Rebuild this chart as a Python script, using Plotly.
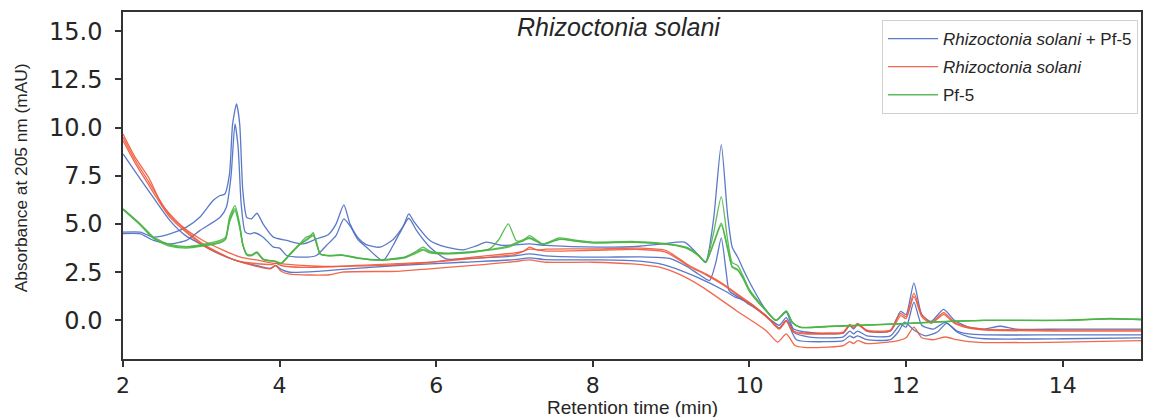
import plotly.graph_objects as go

# ---------------- data ----------------
# Rhizoctonia solani + Pf-5 (blue)
BA_x = [2.0, 2.22, 2.39, 2.6, 2.81, 2.98, 3.15, 3.24, 3.30, 3.36, 3.40, 3.45, 3.49, 3.53, 3.58, 3.64, 3.71, 3.79, 3.92, 4.09, 4.30, 4.47, 4.62, 4.72, 4.82, 4.90, 5.0, 5.1, 5.28, 5.45, 5.58, 5.65, 5.72, 5.92, 6.13, 6.34, 6.50, 6.64, 6.85, 7.19, 7.40, 8.08, 8.6, 8.9, 9.17, 9.30, 9.44, 9.54, 9.64, 9.72, 9.78, 9.85, 9.95, 10.08, 10.2, 10.34, 10.47, 10.56, 10.72, 11.0, 11.2, 11.28, 11.33, 11.38, 11.5, 11.8, 11.93, 12.0, 12.1, 12.2, 12.32, 12.48, 12.62, 12.8, 13.0, 13.2, 13.4, 14.0, 15.0]
BA_y = [4.58, 4.58, 4.32, 4.49, 4.84, 5.35, 6.22, 6.48, 6.56, 7.6, 10.2, 11.23, 10.2, 6.74, 5.35, 5.27, 5.56, 5.0, 4.32, 4.15, 3.97, 4.23, 4.45, 5.0, 6.0, 5.0, 4.3, 3.95, 3.8, 4.2, 4.9, 5.53, 5.1, 4.15, 3.8, 3.66, 3.85, 4.06, 3.89, 3.97, 3.89, 3.80, 3.85, 3.97, 4.06, 3.6, 3.05, 5.2, 9.12, 5.5, 3.8, 3.28, 2.4, 1.4, 0.6, 0.0, 0.43, -0.43, -0.6, -0.7, -0.65, -0.25, -0.45, -0.2, -0.55, -0.55, 0.47, 0.3, 1.95, 0.3, -0.05, 0.57, 0.0, -0.35, -0.45, -0.3, -0.45, -0.45, -0.45]

BB_x = [2.0, 2.22, 2.39, 2.6, 2.81, 2.98, 3.24, 3.32, 3.38, 3.43, 3.47, 3.51, 3.56, 3.62, 3.68, 3.79, 3.92, 4.0, 4.09, 4.30, 4.47, 4.6, 4.72, 4.82, 4.9, 5.0, 5.11, 5.32, 5.45, 5.53, 5.65, 5.75, 5.92, 6.13, 6.4, 6.77, 7.0, 7.19, 7.4, 8.08, 8.6, 9.0, 9.2, 9.35, 9.49, 9.57, 9.64, 9.70, 9.74, 9.82, 9.89, 10.0, 10.1, 10.25, 10.38, 10.47, 10.58, 10.75, 11.0, 11.2, 11.28, 11.33, 11.38, 11.5, 11.8, 11.93, 12.0, 12.1, 12.2, 12.35, 12.5, 12.65, 12.8, 13.0, 14.0, 15.0]
BB_y = [4.5, 4.49, 4.15, 3.97, 4.15, 4.66, 5.35, 5.87, 7.5, 10.19, 9.0, 6.0, 4.6, 4.49, 4.55, 4.32, 3.8, 3.75, 3.37, 3.28, 3.37, 3.9, 4.4, 5.27, 4.9, 4.2, 3.8, 3.1, 3.9, 4.5, 5.3, 4.66, 3.8, 3.19, 3.22, 3.28, 3.35, 3.45, 3.35, 3.28, 3.3, 3.2, 2.8, 2.4, 2.07, 3.0, 4.28, 2.6, 1.55, 1.3, 1.12, 0.9, 0.6, 0.1, -0.25, 0.15, -0.65, -0.85, -0.9, -0.85, -0.55, -0.7, -0.55, -0.8, -0.8, -0.2, -0.35, 0.95, -0.25, -0.45, -0.1, -0.55, -0.7, -0.75, -0.75, -0.75]

BC_x = [2.0, 2.22, 2.4, 2.6, 2.8, 3.02, 3.2, 3.45, 3.7, 3.88, 3.95, 4.02, 4.13, 4.5, 4.8, 5.5, 6.34, 7.0, 7.19, 7.4, 8.08, 8.5, 8.9, 9.3, 9.7, 9.82, 9.89, 9.97, 10.2, 10.38, 10.47, 10.6, 11.0, 11.2, 11.28, 11.33, 11.38, 11.5, 11.8, 11.9, 11.98, 12.1, 12.25, 12.4, 12.52, 12.65, 12.8, 13.0, 14.0, 15.0]
BC_y = [8.64, 7.34, 6.3, 5.18, 4.4, 3.9, 3.5, 3.1, 2.85, 2.7, 2.85, 2.65, 2.5, 2.55, 2.65, 2.85, 3.02, 3.15, 3.25, 3.15, 3.14, 3.1, 2.9, 2.3, 1.5, 1.2, 1.12, 0.9, 0.3, -0.4, 0.0, -1.0, -1.1, -1.05, -0.8, -0.9, -0.8, -1.0, -1.0, -0.6, -0.09, -0.5, -0.8, -0.6, -0.14, -0.6, -0.85, -0.95, -0.95, -0.9]

# Rhizoctonia solani (red)
RA_x = [2.0, 2.15, 2.33, 2.5, 2.75, 3.0, 3.25, 3.5, 3.75, 3.9, 4.0, 4.3, 4.64, 5.5, 5.92, 6.5, 7.0, 7.12, 7.19, 7.3, 7.4, 8.0, 8.6, 8.93, 9.23, 9.45, 9.66, 9.87, 10.08, 10.25, 10.38, 10.47, 10.56, 10.7, 11.0, 11.2, 11.28, 11.33, 11.38, 11.5, 11.8, 11.88, 11.93, 12.0, 12.1, 12.2, 12.32, 12.48, 12.62, 12.8, 13.0, 14.0, 15.0]
RA_y = [9.67, 8.5, 7.4, 6.0, 4.9, 4.2, 3.7, 3.28, 3.1, 2.97, 2.95, 2.85, 2.8, 2.94, 3.02, 3.3, 3.5, 3.6, 3.8, 3.65, 3.7, 3.71, 3.75, 3.63, 2.85, 2.4, 1.9, 1.3, 0.69, 0.1, -0.4, 0.0, -0.55, -0.65, -0.65, -0.6, -0.2, -0.35, -0.15, -0.5, -0.5, 0.1, 0.35, 0.2, 1.42, 0.3, -0.1, 0.4, -0.1, -0.35, -0.45, -0.5, -0.5]

RB_x = [2.0, 2.15, 2.32, 2.6, 3.02, 3.45, 3.9, 3.95, 4.02, 4.3, 4.8, 5.5, 6.5, 7.0, 7.19, 7.4, 8.0, 8.6, 8.93, 9.23, 9.45, 9.66, 9.87, 10.08, 10.25, 10.38, 10.47, 10.56, 10.7, 11.0, 11.2, 11.28, 11.33, 11.38, 11.5, 11.8, 11.93, 12.0, 12.1, 12.2, 12.32, 12.48, 12.62, 12.8, 13.0, 14.0, 15.0]
RB_y = [9.5, 8.35, 7.25, 5.44, 3.97, 3.1, 2.9, 2.97, 2.85, 2.75, 2.8, 2.88, 3.22, 3.42, 3.7, 3.6, 3.64, 3.68, 3.55, 2.8, 2.35, 1.85, 1.25, 0.62, 0.05, -0.45, -0.05, -0.6, -0.7, -0.7, -0.65, -0.25, -0.4, -0.2, -0.55, -0.55, 0.25, 0.1, 1.25, 0.2, -0.15, 0.3, -0.15, -0.4, -0.5, -0.55, -0.55]

RC_x = [2.0, 2.15, 2.32, 2.6, 3.02, 3.45, 3.88, 3.95, 4.02, 4.13, 4.64, 4.8, 5.5, 5.92, 6.6, 7.0, 7.19, 7.4, 8.0, 8.5, 8.85, 9.1, 9.4, 9.83, 10.21, 10.36, 10.47, 10.58, 10.7, 11.0, 11.2, 11.28, 11.33, 11.38, 11.5, 11.9, 12.0, 12.1, 12.2, 12.35, 12.5, 12.65, 12.8, 13.0, 14.0, 15.0]
RC_y = [9.33, 8.2, 7.08, 5.35, 3.89, 3.1, 2.68, 2.85, 2.55, 2.4, 2.37, 2.51, 2.55, 2.68, 2.9, 3.05, 3.14, 3.02, 3.02, 2.93, 2.76, 2.4, 1.73, 0.52, -0.52, -1.12, -0.7, -1.3, -1.4, -1.38, -1.3, -1.1, -1.2, -1.05, -1.2, -1.05, -0.9, -0.35, -0.9, -1.0, -0.86, -1.0, -1.1, -1.15, -1.12, -1.05]

# Pf-5 (green)
GA_x = [2.0, 2.22, 2.39, 2.6, 2.81, 3.02, 3.24, 3.31, 3.36, 3.43, 3.49, 3.53, 3.58, 3.64, 3.71, 3.79, 3.95, 4.02, 4.13, 4.25, 4.34, 4.39, 4.43, 4.47, 4.52, 4.64, 4.8, 5.0, 5.28, 5.6, 5.75, 5.83, 5.92, 6.1, 6.4, 6.68, 6.8, 6.92, 7.02, 7.1, 7.19, 7.36, 7.57, 7.8, 8.0, 8.5, 8.8, 9.0, 9.19, 9.35, 9.44, 9.54, 9.64, 9.72, 9.78, 9.85, 9.92, 10.0, 10.2, 10.34, 10.47, 10.55, 10.65, 11.0, 12.0, 12.5, 13.0, 14.0, 14.6, 15.0]
GA_y = [5.79, 5.01, 4.32, 3.94, 3.83, 3.94, 4.15, 4.32, 5.35, 5.96, 5.0, 3.97, 3.45, 3.4, 3.55, 3.19, 3.07, 2.97, 3.45, 3.95, 4.32, 4.4, 4.55, 3.97, 3.45, 3.37, 3.4, 3.25, 3.15, 3.3, 3.6, 3.8, 3.6, 3.5, 3.55, 3.71, 4.2, 5.01, 4.15, 4.1, 4.4, 3.97, 4.28, 4.15, 4.06, 4.1, 4.03, 3.95, 3.8, 3.4, 3.02, 4.5, 6.42, 4.2, 3.0, 2.85, 2.3, 1.6, 0.6, 0.0, 0.5, -0.1, -0.35, -0.3, -0.15, -0.05, 0.0, 0.0, 0.1, 0.05]

GB_x = [2.0, 2.22, 2.39, 2.6, 2.81, 3.02, 3.24, 3.31, 3.36, 3.43, 3.49, 3.53, 3.58, 3.64, 3.71, 3.79, 3.95, 4.02, 4.13, 4.25, 4.34, 4.39, 4.43, 4.47, 4.52, 4.64, 4.8, 5.0, 5.28, 5.6, 5.75, 5.83, 5.92, 6.1, 6.4, 6.68, 6.92, 7.19, 7.36, 7.57, 7.8, 8.0, 8.5, 8.8, 9.0, 9.19, 9.35, 9.44, 9.54, 9.64, 9.72, 9.78, 9.85, 9.92, 10.0, 10.2, 10.34, 10.47, 10.55, 10.65, 11.0, 12.0, 12.5, 13.0, 14.0, 14.6, 15.0]
GB_y = [5.75, 4.95, 4.25, 3.85, 3.75, 3.85, 4.02, 4.2, 5.1, 5.7, 4.8, 3.9, 3.4, 3.35, 3.5, 3.15, 3.05, 2.95, 3.4, 3.9, 4.15, 4.3, 4.4, 4.1, 3.45, 3.35, 3.38, 3.22, 3.12, 3.25, 3.5, 3.65, 3.5, 3.45, 3.5, 3.65, 3.8, 4.25, 3.95, 4.2, 4.1, 4.02, 4.05, 4.0, 3.92, 3.75, 3.35, 3.0, 4.0, 5.05, 3.8, 2.8, 2.65, 2.2, 1.55, 0.55, 0.0, 0.48, -0.12, -0.36, -0.32, -0.17, -0.06, 0.0, 0.0, 0.08, 0.05]

GC_x = [2.0, 2.22, 2.39, 2.6, 2.81, 3.02, 3.24, 3.31, 3.36, 3.43, 3.49, 3.53, 3.58, 3.64, 3.71, 3.79, 3.95, 4.02, 4.13, 4.25, 4.34, 4.39, 4.43, 4.47, 4.52, 4.64, 4.8, 5.0, 5.28, 5.6, 5.75, 5.83, 5.92, 6.1, 6.4, 6.68, 6.92, 7.19, 7.36, 7.57, 7.8, 8.0, 8.5, 8.8, 9.0, 9.19, 9.35, 9.44, 9.54, 9.64, 9.72, 9.78, 9.85, 9.92, 10.0, 10.2, 10.34, 10.47, 10.55, 10.65, 11.0, 12.0, 12.5, 13.0, 14.0, 14.6, 15.0]
GC_y = [5.77, 4.98, 4.28, 3.9, 3.8, 3.9, 4.08, 4.25, 5.2, 5.8, 4.9, 3.93, 3.42, 3.38, 3.52, 3.17, 3.06, 2.96, 3.42, 3.92, 4.2, 4.35, 4.45, 4.0, 3.43, 3.36, 3.39, 3.23, 3.13, 3.27, 3.55, 3.7, 3.55, 3.47, 3.52, 3.68, 3.85, 4.3, 3.96, 4.22, 4.12, 4.04, 4.07, 4.01, 3.93, 3.77, 3.37, 3.01, 3.95, 4.95, 3.7, 2.75, 2.6, 2.15, 1.5, 0.55, 0.0, 0.46, -0.12, -0.36, -0.32, -0.17, -0.06, 0.0, 0.0, 0.08, 0.05]

GROUP_NAMES = ["<i>Rhizoctonia solani</i> + Pf-5", "<i>Rhizoctonia solani</i>", "Pf-5"]
GROUP_COLORS = ["#4a6bc4", "#f0583a", "#4cb548"]
GROUP_SERIES = [
    [(BA_x, BA_y), (BB_x, BB_y), (BC_x, BC_y)],
    [(RA_x, RA_y), (RB_x, RB_y), (RC_x, RC_y)],
    [(GA_x, GA_y), (GB_x, GB_y), (GC_x, GC_y)],
]
X_TICKS = [2, 4, 6, 8, 10, 12, 14]
Y_TICKS = [0.0, 2.5, 5.0, 7.5, 10.0, 12.5, 15.0]

# ---------------- figure ----------------
fig = go.Figure()
for gi, (name, color, series) in enumerate(zip(GROUP_NAMES, GROUP_COLORS, GROUP_SERIES)):
    for si, (xs, ys) in enumerate(series):
        fig.add_trace(go.Scatter(
            x=xs, y=ys, mode="lines", name=name,
            legendgroup=f"g{gi}", showlegend=(si == 0),
            line=dict(color=color, width=1.3, shape="spline", smoothing=0.6),
            opacity=0.9,
        ))

W, H = 1149, 417
L, R, T, B = 123, 6, 12, 58
pw, ph = W - L - R, H - T - B

axis_common = dict(
    showline=True, linecolor="#333333", linewidth=1.5, mirror=True,
    showgrid=False, zeroline=False, ticks="outside", ticklen=6,
    tickwidth=1.5, tickcolor="#333333",
)
fig.update_layout(
    width=W, height=H,
    margin=dict(l=L, r=R, t=T, b=B),
    paper_bgcolor="white", plot_bgcolor="white",
    xaxis=dict(range=[2, 15], tickvals=X_TICKS,
               tickfont=dict(family="DejaVu Sans", size=22, color="#262626"),
               **axis_common),
    yaxis=dict(range=[-2, 16], tickvals=Y_TICKS, tickformat=".1f",
               ticklabelstandoff=8,
               tickfont=dict(family="DejaVu Sans", size=24, color="#262626"),
               **axis_common),
    legend=dict(
        x=(1140 - L) / pw, xanchor="right", y=1 - (20 - T) / ph, yanchor="top",
        bgcolor="white", bordercolor="#d0d0d0", borderwidth=1,
        font=dict(family="Liberation Sans", size=17, color="#262626"),
        traceorder="grouped", tracegroupgap=3, itemwidth=50,
    ),
    annotations=[
        dict(text="<i>Rhizoctonia solani</i>", xref="paper", yref="paper",
             x=(620 - L) / pw, y=1 - (27 - T) / ph, showarrow=False,
             xanchor="center", yanchor="middle",
             font=dict(family="Liberation Sans", size=25, color="#262626")),
        dict(text="Retention time (min)", xref="paper", yref="paper",
             x=0.5, y=-(407 - 359) / ph, showarrow=False,
             xanchor="center", yanchor="middle",
             font=dict(family="Liberation Sans", size=19, color="#262626")),
        dict(text="Absorbance at 205 nm (mAU)", xref="paper", yref="paper",
             x=(21 - L) / pw, y=1 - (178 - T) / ph, showarrow=False, textangle=-90,
             xanchor="center", yanchor="middle",
             font=dict(family="Liberation Sans", size=17.3, color="#262626")),
    ],
)
fig.write_html("out.html")
